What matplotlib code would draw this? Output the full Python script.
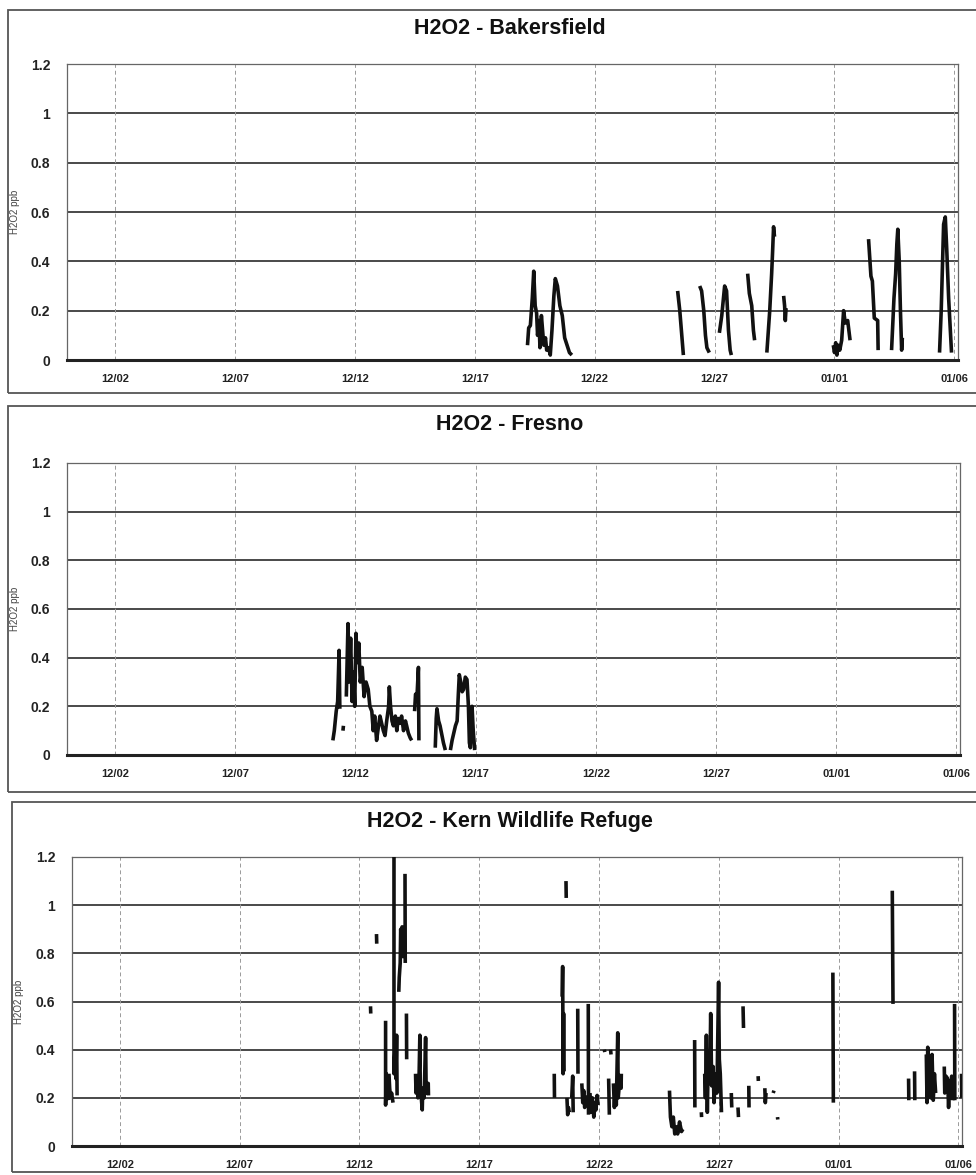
import datetime as dt

import matplotlib
matplotlib.use("Agg")
import matplotlib.dates as mdates
import matplotlib.pyplot as plt
import numpy as np
from matplotlib.patches import Rectangle

plt.rcParams['font.family'] = ['Liberation Sans', 'DejaVu Sans']

nan = np.nan

# time axis: days counted from 11/30/2000 00:00 (so 2.0 = 12/02, 32.0 = 01/01)
BASE = dt.datetime(2000, 11, 30)
tick_days = [2, 7, 12, 17, 22, 27, 32, 37]
y_ticks = [0, 0.2, 0.4, 0.6, 0.8, 1, 1.2]
y_tick_labels = ['0', '0.2', '0.4', '0.6', '0.8', '1', '1.2']

titles = ['H2O2 - Bakersfield', 'H2O2 - Fresno', 'H2O2 - Kern Wildlife Refuge']

# Bakersfield H2O2 (ppb), NaN = no data
bak_day = [19.20, 19.25, 19.32, 19.40, 19.46, 19.52, 19.58, 19.62, 19.68, 19.72, 19.78, 19.83,
           19.88, 19.95, 20.00, 20.08, 20.15, 20.22, 20.30, 20.36, 20.45, 20.55, 20.65, 20.75,
           20.85, 20.95, 21.05, nan,
           25.46, 25.55, 25.70, nan,
           26.38, 26.46, 26.55, 26.62, 26.68, 26.78, nan,
           27.20, 27.30, 27.42, 27.50, 27.58, 27.65, 27.70, nan,
           28.38, 28.45, 28.55, 28.62, 28.67, nan,
           29.18, 29.30, 29.38, 29.42, 29.46, 29.50, nan,
           29.88, 29.92, 29.95, 29.98, nan,
           31.95, 32.00, 32.05, 32.10, 32.15, 32.22, 32.30, 32.38, 32.45, 32.55, 32.65, nan,
           33.42, 33.52, 33.58, 33.66, 33.80, 33.82, nan,
           34.38, 34.48, 34.55, 34.60, 34.64, 34.70, 34.75, 34.80, 34.83, nan,
           36.38, 36.45, 36.55, 36.62, 36.68, 36.76, 36.88]
bak_ppb = [0.06, 0.13, 0.14, 0.25, 0.36, 0.22, 0.19, 0.10, 0.16, 0.05, 0.18, 0.12,
           0.06, 0.09, 0.04, 0.05, 0.02, 0.12, 0.26, 0.33, 0.30, 0.22, 0.18, 0.09,
           0.06, 0.03, 0.02, nan,
           0.28, 0.20, 0.02, nan,
           0.30, 0.28, 0.20, 0.10, 0.05, 0.03, nan,
           0.11, 0.18, 0.30, 0.28, 0.12, 0.04, 0.02, nan,
           0.35, 0.27, 0.22, 0.12, 0.08, nan,
           0.03, 0.20, 0.35, 0.44, 0.54, 0.50, nan,
           0.26, 0.22, 0.16, 0.21, nan,
           0.06, 0.03, 0.07, 0.02, 0.06, 0.04, 0.08, 0.20, 0.15, 0.16, 0.08, nan,
           0.49, 0.34, 0.32, 0.17, 0.16, 0.04, nan,
           0.04, 0.25, 0.35, 0.47, 0.53, 0.40, 0.20, 0.04, 0.09, nan,
           0.03, 0.20, 0.55, 0.58, 0.45, 0.25, 0.03]

# Fresno H2O2 (ppb)
fres_day = [11.06, 11.12, 11.20, 11.26, 11.32, 11.35, nan,
            11.48, 11.50, nan,
            11.62, 11.69, 11.74, 11.80, 11.86, 11.92, 11.97, 12.02, 12.08, 12.14, 12.20, 12.28,
            12.36, 12.44, 12.53, 12.60, 12.68, 12.74, 12.80, 12.88, 12.96, 13.02, 13.09, 13.16,
            13.23, 13.30, 13.38, 13.41, 13.46, 13.52, 13.58, 13.66, 13.72, 13.78, 13.85, 13.92,
            14.00, 14.08, 14.13, 14.20, 14.28, 14.34, nan,
            14.46, 14.50, 14.56, 14.62, 14.64, nan,
            15.32, 15.36, 15.39, 15.46, 15.52, 15.60, 15.66, 15.74, nan,
            15.95, 16.02, 16.09, 16.16, 16.23, 16.28, 16.32, 16.38, 16.44, 16.50, 16.57, 16.64,
            16.70, 16.74, 16.78, 16.85, 16.90, 16.96]
fres_ppb = [0.06, 0.10, 0.18, 0.22, 0.43, 0.19, nan,
            0.10, 0.12, nan,
            0.24, 0.54, 0.30, 0.48, 0.22, 0.34, 0.20, 0.50, 0.38, 0.46, 0.30, 0.36,
            0.24, 0.30, 0.27, 0.20, 0.18, 0.10, 0.16, 0.06, 0.12, 0.16, 0.13, 0.10,
            0.08, 0.14, 0.20, 0.28, 0.20, 0.14, 0.12, 0.16, 0.10, 0.15, 0.13, 0.16,
            0.10, 0.14, 0.12, 0.09, 0.07, 0.06, nan,
            0.18, 0.25, 0.24, 0.36, 0.06, nan,
            0.03, 0.15, 0.19, 0.14, 0.12, 0.08, 0.05, 0.02, nan,
            0.02, 0.06, 0.09, 0.12, 0.14, 0.25, 0.33, 0.30, 0.26, 0.27, 0.32, 0.31,
            0.20, 0.05, 0.03, 0.20, 0.10, 0.02]

# Kern Wildlife Refuge H2O2 (ppb)
kern_day = [12.46, 12.47, nan,
            12.71, 12.72, nan,
            13.09, 13.09, 13.12, 13.16, 13.20, nan,
            13.23, 13.26, 13.30, 13.34, 13.40, nan,
            13.44, 13.44, 13.48, 13.52, 13.55, 13.57, nan,
            13.64, 13.66, 13.70, 13.72, 13.75, 13.78, 13.80, 13.84, nan,
            13.90, 13.91, nan,
            13.96, 13.97, nan,
            14.34, 14.36, 14.40, 14.44, 14.48, 14.52, 14.54, 14.58, 14.62, 14.64, 14.70, 14.76,
            14.78, 14.82, 14.87, 14.88, nan,
            20.62, 20.63, nan,
            20.13, 20.14, nan,
            20.46, 20.48, 20.50, 20.52, 20.54, nan,
            20.66, 20.69, 20.72, 20.76, nan,
            20.86, 20.90, 20.92, nan,
            21.11, 21.12, nan,
            21.28, 21.32, 21.36, 21.40, 21.45, nan,
            21.55, 21.56, nan,
            21.62, 21.67, 21.72, 21.78, 21.84, 21.87, 21.92, 21.96, nan,
            22.22, 22.24, nan,
            22.48, 22.50, nan,
            22.40, 22.43, nan,
            22.60, 22.64, 22.68, 22.72, 22.78, 22.80, 22.86, 22.92, 22.93, nan,
            24.94, 24.98, 25.04, 25.10, 25.16, 25.22, 25.28, 25.36, 25.44, 25.50, nan,
            25.99, 26.00, nan,
            26.27, 26.28, nan,
            26.41, 26.44, 26.48, 26.52, 26.56, 26.62, 26.66, 26.70, 26.76, 26.80, 26.86, 26.92,
            26.99, 27.02, 27.06, 27.11, nan,
            27.52, 27.54, nan,
            27.80, 27.82, nan,
            28.01, 28.03, nan,
            28.25, 28.26, nan,
            28.64, 28.65, nan,
            28.92, 28.94, 28.97, nan,
            29.27, 29.30, nan,
            29.45, 29.46, nan,
            31.76, 31.78, nan,
            34.24, 34.27, nan,
            34.92, 34.93, nan,
            35.17, 35.18, nan,
            35.66, 35.69, 35.72, 35.76, 35.80, 35.84, 35.90, 35.95, 36.00, 36.05, nan,
            36.41, 36.43, 36.48, 36.55, 36.59, 36.63, 36.68, 36.72, 36.78, nan,
            36.84, 36.85, nan,
            37.13, 37.14]
kern_ppb = [0.58, 0.55, nan,
            0.88, 0.84, nan,
            0.52, 0.17, 0.30, 0.22, 0.19, nan,
            0.30, 0.24, 0.20, 0.22, 0.18, nan,
            1.20, 0.30, 0.40, 0.28, 0.46, 0.21, nan,
            0.64, 0.70, 0.76, 0.90, 0.86, 0.91, 0.82, 0.78, nan,
            1.13, 0.76, nan,
            0.55, 0.36, nan,
            0.30, 0.22, 0.28, 0.20, 0.25, 0.46, 0.22, 0.20, 0.15, 0.24, 0.20, 0.45,
            0.25, 0.22, 0.26, 0.21, nan,
            1.10, 1.03, nan,
            0.30, 0.20, nan,
            0.62, 0.745, 0.30, 0.55, 0.31, nan,
            0.20, 0.13, 0.16, 0.14, nan,
            0.20, 0.29, 0.14, nan,
            0.57, 0.30, nan,
            0.26, 0.18, 0.23, 0.16, 0.21, nan,
            0.59, 0.13, nan,
            0.22, 0.14, 0.20, 0.12, 0.18, 0.15, 0.21, 0.17, nan,
            0.40, 0.39, nan,
            0.40, 0.38, nan,
            0.28, 0.13, nan,
            0.26, 0.16, 0.24, 0.17, 0.47, 0.20, 0.27, 0.24, 0.30, nan,
            0.23, 0.12, 0.08, 0.12, 0.05, 0.08, 0.05, 0.10, 0.06, 0.07, nan,
            0.44, 0.16, nan,
            0.14, 0.12, nan,
            0.30, 0.20, 0.46, 0.14, 0.38, 0.26, 0.55, 0.25, 0.33, 0.18, 0.30, 0.22,
            0.68, 0.36, 0.30, 0.14, nan,
            0.22, 0.16, nan,
            0.16, 0.12, nan,
            0.58, 0.49, nan,
            0.25, 0.16, nan,
            0.29, 0.27, nan,
            0.24, 0.18, 0.22, nan,
            0.22, 0.23, nan,
            0.12, 0.11, nan,
            0.72, 0.18, nan,
            1.06, 0.59, nan,
            0.28, 0.19, nan,
            0.31, 0.19, nan,
            0.38, 0.18, 0.41, 0.22, 0.35, 0.20, 0.38, 0.19, 0.30, 0.22, nan,
            0.33, 0.22, 0.29, 0.28, 0.16, 0.27, 0.20, 0.29, 0.19, nan,
            0.59, 0.19, nan,
            0.30, 0.20]

series = [(bak_day, bak_ppb), (fres_day, fres_ppb), (kern_day, kern_ppb)]

W, H = 976, 1175
fig = plt.figure(figsize=(W / 100, H / 100), dpi=100)

# pixel layout of each panel: plot box (left, top, right, bottom), outer frame, title y
boxes = [(67, 64, 958, 360), (67, 463, 960, 755), (72, 857, 962, 1146)]
frames = [(8, 10, 393), (8, 406, 792), (12, 802, 1172)]
title_y = [28, 424, 821]

base_num = mdates.date2num(BASE)
x_lo, x_hi = base_num, base_num + 37.15

for i, ((days, ppb), (l, t, r, b)) in enumerate(zip(series, boxes)):
    # outer frame around each chart
    fl, ft, fb = frames[i]
    fig.patches.append(Rectangle((fl / W, 1 - fb / H), (W + 20 - fl) / W, (fb - ft) / H,
                                 transform=fig.transFigure, fill=False,
                                 edgecolor='#555555', lw=1.3, zorder=0))
    fig.text(510 / W, 1 - title_y[i] / H, titles[i], ha='center', va='center',
             fontsize=15.5, fontweight='bold', color='#111111')

    ax = fig.add_axes([l / W, 1 - b / H, (r - l) / W, (b - t) / H])
    x = base_num + np.array(days)
    ax.plot(x, ppb, color='#111111', lw=2.6, solid_capstyle='butt', zorder=3)

    ax.set_xlim(x_lo, x_hi)
    ax.set_ylim(0, 1.2)
    ax.set_yticks(y_ticks)
    ax.set_yticklabels(y_tick_labels)
    ax.set_xticks([base_num + d for d in tick_days])
    ax.xaxis.set_major_formatter(mdates.DateFormatter('%m/%d'))

    # gridlines: solid horizontal, dashed vertical
    for yv in y_ticks[1:]:
        ax.axhline(yv, color='#3a3a3a', lw=1.3, zorder=1)
    for d in tick_days:
        ax.axvline(base_num + d, color='#9a9a9a', lw=0.7, ls=(0, (4, 3)), zorder=1)

    ax.tick_params(length=0)
    ax.tick_params(axis='y', pad=12, labelsize=10)
    ax.tick_params(axis='x', pad=10, labelsize=8)
    for lab in ax.get_xticklabels() + ax.get_yticklabels():
        lab.set_fontweight('bold')
        lab.set_color('#222222')

    for side in ['left', 'right', 'top']:
        ax.spines[side].set_color('#666666')
        ax.spines[side].set_linewidth(0.9)
    ax.spines['bottom'].set_color('#222222')
    ax.spines['bottom'].set_linewidth(2.2)

    ax.set_ylabel('H2O2 ppb', fontsize=7, color='#444444')
    ax.yaxis.set_label_coords(-(l - fl - 12) / (r - l), 0.5)

fig.savefig('out.png', dpi=100, facecolor='white')
